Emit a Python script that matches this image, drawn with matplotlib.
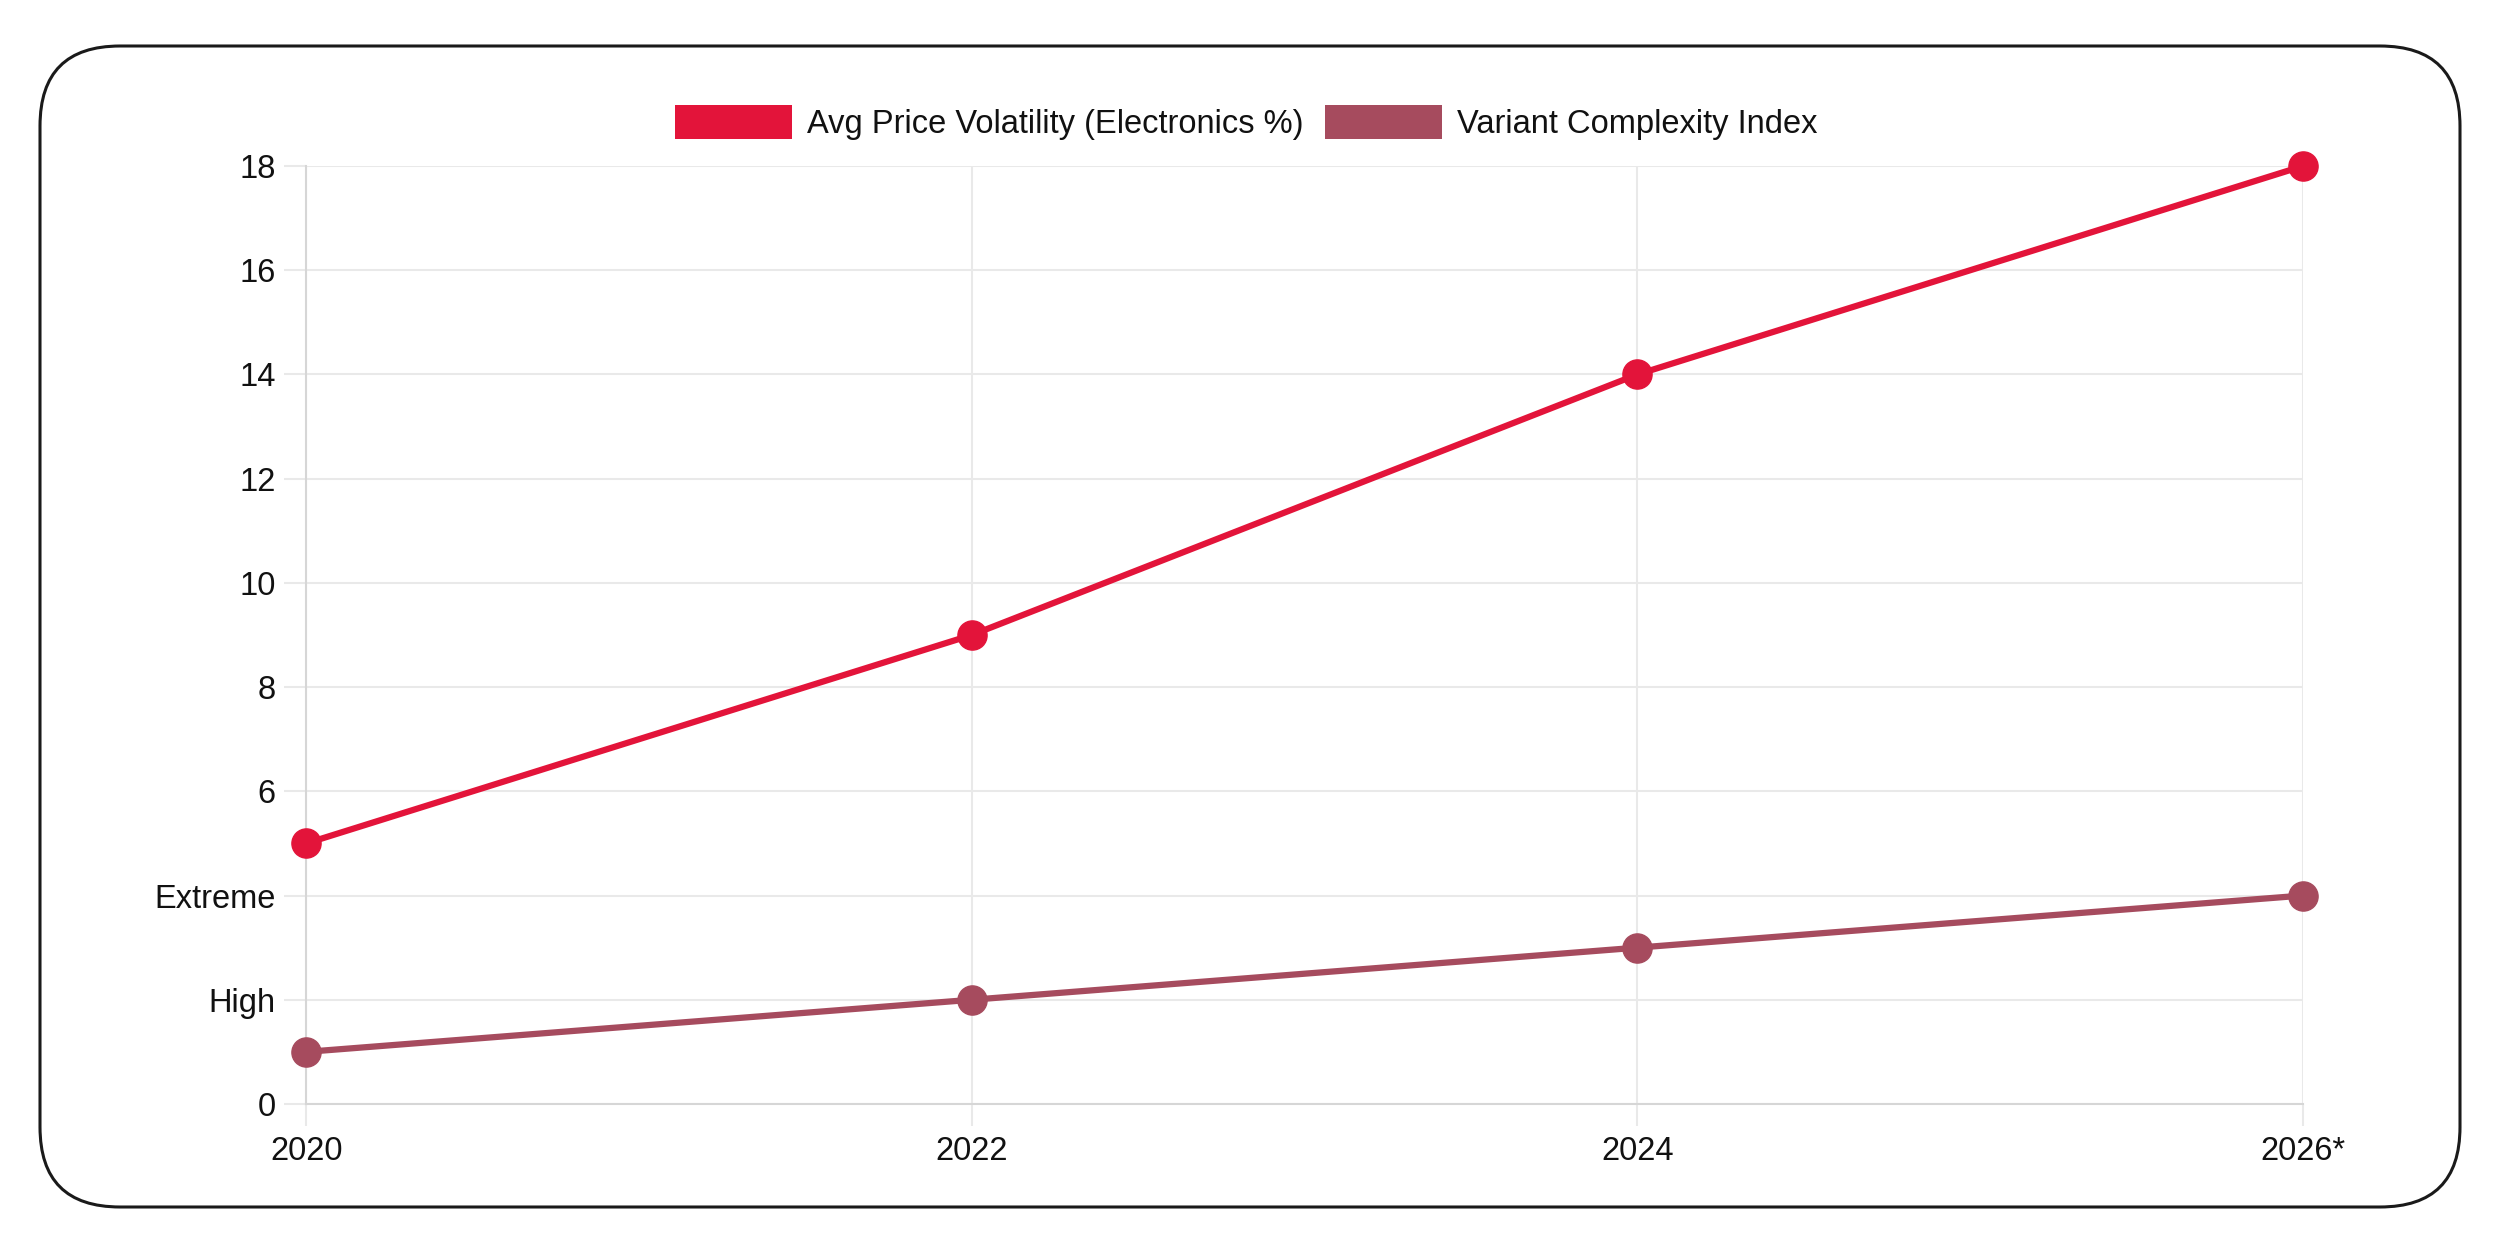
import numpy as np
import matplotlib.pyplot as plt
from matplotlib.patches import FancyBboxPatch, Patch

plt.rcParams['font.family'] = ['Liberation Sans', 'DejaVu Sans']

years = ['2020', '2022', '2024', '2026*']
volatility = [5, 9, 14, 18]
complexity = [1, 2, 3, 4]
y_ticks = [0, 2, 4, 6, 8, 10, 12, 14, 16, 18]
y_labels = ['0', 'High', 'Extreme', '6', '8', '10', '12', '14', '16', '18']
series_names = ['Avg Price Volatility (Electronics %)', 'Variant Complexity Index']

red = '#E3143A'
plum = '#A64B5E'
grid_c = '#e9e9e9'
axis_c = '#d6d6d6'
txt = '#111111'
fs = 23.5

fig = plt.figure(figsize=(24.97, 12.40), dpi=100)
fig.patch.set_facecolor('white')

# rounded card border
card = FancyBboxPatch((0.40, 0.33), 24.2, 11.61,
                      boxstyle='round,pad=0,rounding_size=0.8',
                      transform=fig.dpi_scale_trans, facecolor='none',
                      edgecolor='#1a1a1a', linewidth=2.2)
fig.patches.append(card)

ax = fig.add_axes([0.1226, 0.1097, 0.7997, 0.7564])
x = np.arange(len(years))

ax.plot(x, volatility, color=red, lw=4.5, marker='o', ms=21,
        clip_on=False, zorder=4)
ax.plot(x, complexity, color=plum, lw=4.5, marker='o', ms=21,
        clip_on=False, zorder=4)

ax.set_xlim(0, len(years) - 1)
ax.set_ylim(0, 18)
ax.set_xticks(x)
ax.set_xticklabels(years)
ax.set_yticks(y_ticks)
ax.set_yticklabels(y_labels)

ax.grid(True, color=grid_c, lw=1.5, zorder=0)
ax.set_axisbelow(True)
for s in ['top', 'right']:
    ax.spines[s].set_visible(False)
for s in ['left', 'bottom']:
    ax.spines[s].set_color(axis_c)
    ax.spines[s].set_linewidth(1.5)

ax.tick_params(axis='both', length=16, width=1.5, color=grid_c,
               labelsize=fs, labelcolor=txt)
ax.tick_params(axis='x', pad=7)
ax.tick_params(axis='y', pad=6)

handles = [Patch(facecolor=red, edgecolor='none'),
           Patch(facecolor=plum, edgecolor='none')]
fig.legend(handles, series_names, loc='center', bbox_to_anchor=(0.499, 0.901),
           ncol=2, frameon=False, fontsize=fs, labelcolor=txt,
           handlelength=3.6, handleheight=1.23, handletextpad=0.45,
           columnspacing=0.65, borderpad=0)

fig.savefig('out.png', dpi=100, facecolor='white')
